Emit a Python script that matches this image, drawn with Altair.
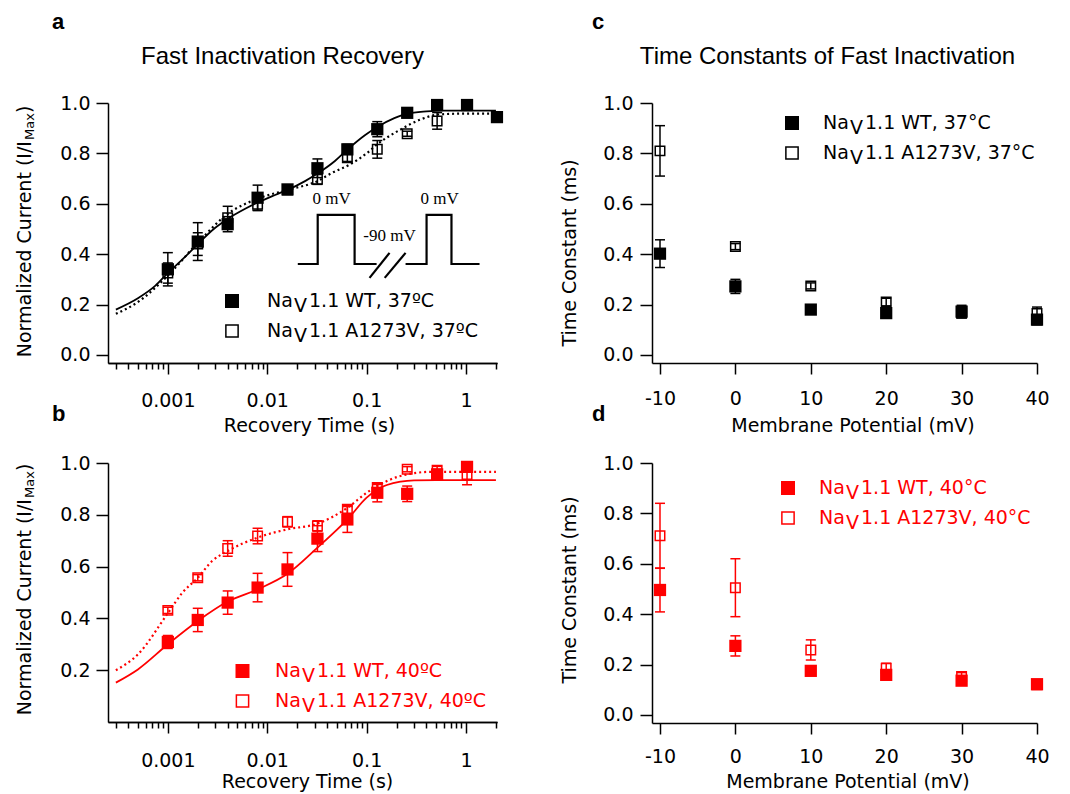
import altair as alt
import pandas as pd

# ---------------- data: panels a / b (recovery from fast inactivation) ----------------
REC_T = [0.001, 0.002, 0.004, 0.008, 0.016, 0.032, 0.064, 0.128, 0.256, 0.512, 1.024, 2.048]

WT37 = [0.340, 0.450, 0.519, 0.624, 0.657, 0.741, 0.816, 0.896, 0.961, 0.992, 0.992, 0.944]
WT37_ERR = [0.066, 0.075, 0.030, 0.050, 0.015, 0.037, 0.020, 0.030, 0.010, 0.008, 0.008, 0.008]
MUT37 = [0.325, 0.440, 0.545, 0.598, 0.655, 0.697, 0.783, 0.816, 0.878, 0.929]
MUT37_ERR = [0.040, 0.045, 0.045, 0.025, 0.012, 0.020, 0.015, 0.035, 0.010, 0.033]

WT40 = [0.309, 0.394, 0.461, 0.519, 0.589, 0.708, 0.782, 0.885, 0.881, 0.956, 0.985]
WT40_ERR = [0.025, 0.045, 0.045, 0.055, 0.065, 0.050, 0.050, 0.035, 0.030, 0.020, 0.012]
MUT40 = [0.431, 0.557, 0.670, 0.718, 0.773, 0.757, 0.821, 0.905, 0.976, 0.972, 0.956]
MUT40_ERR = [0.012, 0.012, 0.030, 0.030, 0.020, 0.020, 0.015, 0.012, 0.010, 0.015, 0.040]

FIT_WT37_T = [0.0003, 0.0005, 0.00075, 0.001, 0.0015, 0.002, 0.003, 0.004, 0.006, 0.008, 0.012,
              0.016, 0.024, 0.032, 0.048, 0.064, 0.096, 0.128, 0.19, 0.256, 0.4, 0.6, 1.0, 2.0]
FIT_WT37_V = [0.180, 0.225, 0.275, 0.325, 0.390, 0.440, 0.505, 0.540, 0.580, 0.605, 0.635,
              0.655, 0.690, 0.720, 0.770, 0.815, 0.872, 0.905, 0.940, 0.958, 0.967, 0.970, 0.970, 0.970]
FIT_MUT37_T = [0.0003, 0.0005, 0.001, 0.002, 0.004, 0.008, 0.016, 0.032, 0.045, 0.068, 0.1,
               0.128, 0.22, 0.35, 0.55, 1.0, 2.0]
FIT_MUT37_V = [0.163, 0.210, 0.315, 0.445, 0.560, 0.620, 0.655, 0.690, 0.723, 0.756, 0.800,
               0.836, 0.895, 0.935, 0.955, 0.958, 0.958]
FIT_WT40_T = [0.0003, 0.0005, 0.001, 0.002, 0.004, 0.008, 0.016, 0.032, 0.064, 0.1, 0.128,
              0.22, 0.3, 0.5, 1.0, 2.0]
FIT_WT40_V = [0.152, 0.203, 0.300, 0.390, 0.465, 0.512, 0.572, 0.673, 0.782, 0.866, 0.898,
              0.928, 0.933, 0.934, 0.934, 0.934]
FIT_MUT40_T = [0.0003, 0.0005, 0.001, 0.0014, 0.002, 0.0028, 0.004, 0.008, 0.016, 0.032, 0.064,
               0.1, 0.128, 0.22, 0.45, 1.0, 2.0]
FIT_MUT40_V = [0.200, 0.261, 0.420, 0.499, 0.557, 0.622, 0.660, 0.712, 0.744, 0.766, 0.827,
               0.885, 0.911, 0.950, 0.966, 0.966, 0.966]

# voltage-protocol schematic inside panel a (in panel a data units)
INSET_T = [0.0203, 0.0322, 0.0322, 0.0757, 0.0757, 0.126,
           0.2465, 0.401, 0.401, 0.714, 0.714, 1.368,
           0.107, 0.170, 0.152, 0.2465]
INSET_V = [0.361, 0.361, 0.556, 0.556, 0.361, 0.361,
           0.361, 0.361, 0.556, 0.556, 0.361, 0.361,
           0.306, 0.405, 0.306, 0.405]
INSET_SEG = [0, 0, 0, 0, 0, 0, 1, 1, 1, 1, 1, 1, 2, 2, 3, 3]
INSET_LABEL_T = [0.0445, 0.542, 0.170]
INSET_LABEL_V = [0.619, 0.619, 0.472]
INSET_LABELS = ["0 mV", "0 mV", "-90 mV"]

# ---------------- data: panels c / d (time constants) ----------------
VM = [-10, 0, 10, 20, 30, 40]
TAU_WT37 = [0.402, 0.272, 0.180, 0.166, 0.172, 0.140]
TAU_WT37_ERR = [0.055, 0.028, 0.008, 0.010, 0.025, 0.020]
TAU_MUT37 = [0.810, 0.430, 0.274, 0.210, 0.165, 0.165]
TAU_MUT37_ERR = [0.100, 0.012, 0.012, 0.015, 0.010, 0.025]
TAU_WT40 = [0.496, 0.274, 0.175, 0.159, 0.136, 0.122]
TAU_WT40_ERR = [0.087, 0.040, 0.012, 0.010, 0.010, 0.010]
TAU_MUT40 = [0.711, 0.505, 0.258, 0.185, 0.153, 0.120]
TAU_MUT40_ERR = [0.129, 0.115, 0.040, 0.020, 0.015, 0.010]

LOG_MAJOR = [0.001, 0.01, 0.1, 1]
LOG_MINOR = [3e-4, 4e-4, 5e-4, 6e-4, 7e-4, 8e-4, 9e-4,
             2e-3, 3e-3, 4e-3, 5e-3, 6e-3, 7e-3, 8e-3, 9e-3,
             2e-2, 3e-2, 4e-2, 5e-2, 6e-2, 7e-2, 8e-2, 9e-2,
             0.2, 0.3, 0.4, 0.5, 0.6, 0.7, 0.8, 0.9, 2]

FONT = "DejaVu Sans"
TFONT = "Liberation Sans"
SERIF = "Liberation Serif"
BLACK = "#000000"
RED = "#ff0000"
ONE = pd.DataFrame({"k": [0]})


def series_df(xs, vs, es):
    n = len(vs)
    return pd.DataFrame({"x": xs[:n], "v": vs,
                         "lo": [v - e for v, e in zip(vs, es)],
                         "hi": [v + e for v, e in zip(vs, es)]})


def series_layers(df, xs, ys, color, filled):
    base = alt.Chart(df)
    x = alt.X("x:Q", scale=xs, axis=None)
    rule = base.mark_rule(color=color, strokeWidth=1.5).encode(
        x=x, y=alt.Y("lo:Q", scale=ys, axis=None), y2="hi:Q")
    cap_lo = base.mark_tick(color=color, orient="horizontal", size=10, thickness=1.5, opacity=1).encode(
        x=x, y=alt.Y("lo:Q", scale=ys, axis=None))
    cap_hi = base.mark_tick(color=color, orient="horizontal", size=10, thickness=1.5, opacity=1).encode(
        x=x, y=alt.Y("hi:Q", scale=ys, axis=None))
    pts = base.mark_point(shape="square", filled=filled, color=color,
                          size=150 if filled else 90, strokeWidth=1.5, opacity=1).encode(
        x=x, y=alt.Y("v:Q", scale=ys, axis=None))
    return [rule, cap_lo, cap_hi, pts]


def txt(text, x, y, size=19, color=BLACK, align="left", baseline="middle", angle=0,
        font=FONT, weight="normal"):
    return alt.Chart(ONE).mark_text(text=text, fontSize=size, color=color, align=align,
                                    baseline=baseline, angle=angle, font=font,
                                    fontWeight=weight).encode(x=alt.value(x), y=alt.value(y))


def sym(x, y, color, filled):
    return alt.Chart(ONE).mark_point(shape="square", filled=filled, color=color,
                                     size=196 if filled else 150, strokeWidth=1.5,
                                     opacity=1).encode(x=alt.value(x), y=alt.value(y))


def na_label(x, y, rest, color):
    return [txt("Na", x, y, color=color),
            txt("V", x + 27, y + 5, color=color),
            txt(rest, x + 42, y, color=color)]


def legend(sx, sy, tx, color, row1, row2):
    return ([sym(sx, sy, color, True), sym(sx, sy + 30, color, False)]
            + na_label(tx, sy, row1, color) + na_label(tx, sy + 30, row2, color))


def norm_ytitle(y0):
    return [txt("Normalized Current (I/I", -83, y0, angle=270),
            txt("Max", -78, y0 - 217.3, size=13, angle=270),
            txt(")", -83, y0 - 244.2, angle=270)]


def letter(ch, x, y):
    return txt(ch, x, y, size=22, baseline="alphabetic", font=TFONT, weight="bold")


def curve(t, v, xs, ys, color, dotted, xaxis, yaxis):
    df = pd.DataFrame({"t": t, "v": v})
    props = dict(color=color, interpolate="monotone", strokeWidth=2.2 if dotted else 1.8)
    if dotted:
        props["strokeDash"] = [2, 3]
    return alt.Chart(df).mark_line(**props).encode(
        x=alt.X("t:Q", scale=xs, axis=xaxis), y=alt.Y("v:Q", scale=ys, axis=yaxis))


def log_axes(lab_pad, title_x, title_y):
    major = alt.Axis(values=LOG_MAJOR, format="~g", tickSize=11, labelPadding=lab_pad,
                     labelBaseline="alphabetic", orient="bottom", title="Recovery Time (s)",
                     titleX=title_x, titleY=title_y, titleBaseline="alphabetic",
                     titleAlign="center", domain=True)
    minor = alt.Axis(values=LOG_MINOR, tickSize=6, labels=False, domain=True,
                     orient="bottom", title=None)
    return major, minor


# ---------------- panel a ----------------
xa = alt.Scale(type="log", domain=[0.00025, 2.05], nice=False)
ya = alt.Scale(domain=[-0.032, 1.0], nice=False, zero=False)
maj, mnr = log_axes(32, 201, 68)
y_axis_a = alt.Axis(values=[0, 0.2, 0.4, 0.6, 0.8, 1.0], format=".1f", tickSize=12,
                    labelPadding=6, title=None, orient="left", domain=True)

inset_df = pd.DataFrame({"t": INSET_T, "v": INSET_V, "seg": INSET_SEG,
                         "i": list(range(len(INSET_T)))})
inset_lab = pd.DataFrame({"t": INSET_LABEL_T, "v": INSET_LABEL_V, "lab": INSET_LABELS})

layers_a = [
    curve(FIT_WT37_T, FIT_WT37_V, xa, ya, BLACK, False, maj, y_axis_a),
    curve(FIT_MUT37_T, FIT_MUT37_V, xa, ya, BLACK, True, mnr, None),
    alt.Chart(inset_df).mark_line(color=BLACK, strokeWidth=2.2).encode(
        x=alt.X("t:Q", scale=xa, axis=None), y=alt.Y("v:Q", scale=ya, axis=None),
        detail="seg:N", order="i:Q"),
    alt.Chart(inset_lab).mark_text(font=SERIF, fontSize=17, color=BLACK).encode(
        x=alt.X("t:Q", scale=xa, axis=None), y=alt.Y("v:Q", scale=ya, axis=None), text="lab:N"),
]
layers_a += series_layers(series_df(REC_T, MUT37, MUT37_ERR), xa, ya, BLACK, False)
layers_a += series_layers(series_df(REC_T, WT37, WT37_ERR), xa, ya, BLACK, True)
layers_a += legend(124, 198, 159, BLACK, "1.1 WT, 37ºC", "1.1 A1273V, 37ºC")
layers_a += norm_ytitle(254.3)
layers_a += [txt("Fast Inactivation Recovery", 174.5, -39, size=24, align="center",
                 baseline="alphabetic", font=TFONT),
             letter("a", -56, -74)]
panel_a = alt.layer(*layers_a).resolve_axis(x="independent", y="independent").properties(
    width=389, height=260)

# ---------------- panel b ----------------
yb = alt.Scale(domain=[0, 1.0], nice=False, zero=False)
maj_b, mnr_b = log_axes(33, 199, 65)
y_axis_b = alt.Axis(values=[0.2, 0.4, 0.6, 0.8, 1.0], format=".1f", tickSize=12,
                    labelPadding=6, title=None, orient="left", domain=True)
layers_b = [
    curve(FIT_WT40_T, FIT_WT40_V, xa, yb, RED, False, maj_b, y_axis_b),
    curve(FIT_MUT40_T, FIT_MUT40_V, xa, yb, RED, True, mnr_b, None),
]
layers_b += series_layers(series_df(REC_T, MUT40, MUT40_ERR), xa, yb, RED, False)
layers_b += series_layers(series_df(REC_T, WT40, WT40_ERR), xa, yb, RED, True)
layers_b += legend(134.5, 208, 167, RED, "1.1 WT, 40ºC", "1.1 A1273V, 40ºC")
layers_b += norm_ytitle(252.3)
layers_b += [letter("b", -56, -42)]
panel_b = alt.layer(*layers_b).resolve_axis(x="independent", y="independent").properties(
    width=389, height=259)


# ---------------- panels c / d ----------------
def tau_panel(wt, wt_err, mut, mut_err, color, lab_pad, title_x, title_y, ytitle_y,
              leg, rows, let, let_y, title=None):
    xs = alt.Scale(domain=[-11.06, 40], nice=False, zero=False)
    ys = alt.Scale(domain=[-0.032, 1.0], nice=False, zero=False)
    xaxis = alt.Axis(values=VM, tickSize=11, labelPadding=lab_pad, labelBaseline="alphabetic",
                     labelExpr="'' + datum.value", title="Membrane Potential (mV)",
                     titleX=title_x, titleY=title_y, titleBaseline="alphabetic",
                     titleAlign="center", orient="bottom", domain=True)
    yaxis = alt.Axis(values=[0, 0.2, 0.4, 0.6, 0.8, 1.0], format=".1f", tickSize=12,
                     labelPadding=7, title=None, orient="left", domain=True)
    mut_df = series_df(VM, mut, mut_err)
    wt_df = series_df(VM, wt, wt_err)
    axis_carrier = alt.Chart(wt_df).mark_point(opacity=0).encode(
        x=alt.X("x:Q", scale=xs, axis=xaxis), y=alt.Y("v:Q", scale=ys, axis=yaxis))
    layers = [axis_carrier]
    layers += series_layers(wt_df, xs, ys, color, True)
    layers += series_layers(mut_df, xs, ys, color, False)
    layers += legend(leg[0], leg[1], leg[2], color, rows[0], rows[1])
    layers += [txt("Time Constant (ms)", -82, ytitle_y, angle=270, align="center")]
    layers += [letter(let, -60, let_y)]
    if title:
        layers += [txt(title, 175.5, -39, size=24, align="center", baseline="alphabetic",
                       font=TFONT)]
    return alt.layer(*layers).resolve_axis(x="independent", y="independent").properties(
        width=385, height=260)


panel_c = tau_panel(TAU_WT37, TAU_WT37_ERR, TAU_MUT37, TAU_MUT37_ERR, BLACK, 30, 200.5, 68, 150,
                    (140, 20, 171), ("1.1 WT, 37°C", "1.1 A1273V, 37°C"), "c", -74,
                    "Time Constants of Fast Inactivation")
panel_d = tau_panel(TAU_WT40, TAU_WT40_ERR, TAU_MUT40, TAU_MUT40_ERR, RED, 28, 195.5, 64, 127,
                    (136, 25, 167), ("1.1 WT, 40°C", "1.1 A1273V, 40°C"), "d", -42)

chart = alt.concat(panel_a, panel_c, panel_b, panel_d, columns=2,
                   spacing={"row": 100, "column": 155}, bounds="flush").properties(
    padding={"left": 7, "top": 3, "right": 5, "bottom": 5}
).configure_view(stroke=None).configure_axis(
    domainColor=BLACK, tickColor=BLACK, labelColor=BLACK, titleColor=BLACK,
    domainWidth=1.5, tickWidth=1.5, labelFont=FONT, labelFontSize=19, titleFont=FONT,
    titleFontSize=19, titleFontWeight="normal", grid=False, labelFlush=False,
    labelOverlap=False, labelBound=False
)

chart.save("out.html", embed_options={"renderer": "svg", "actions": False})
